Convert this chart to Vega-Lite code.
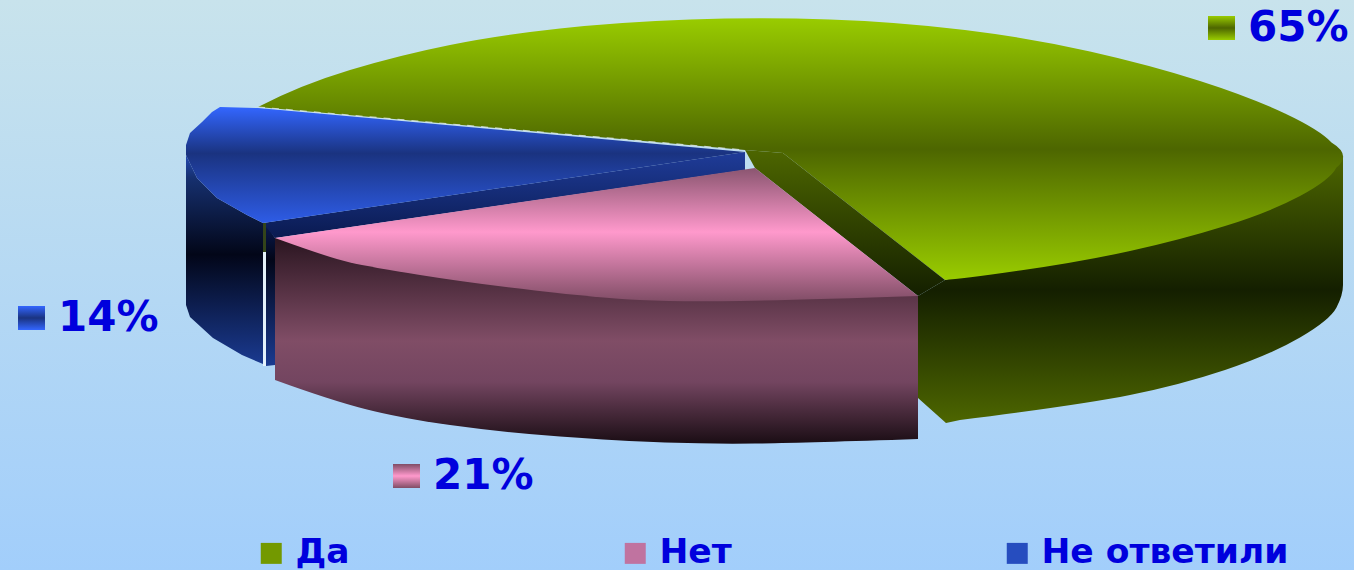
{"$schema":"https://vega.github.io/schema/vega-lite/v6.json","width":1354,"height":570,"padding":0,"autosize":{"type":"fit","contains":"padding"},"background":"#b5d8f4","view":{"stroke":null,"fill":{"gradient":"linear","x1":0,"y1":0,"x2":0,"y2":1,"stops":[{"offset":0,"color":"#c8e3ec"},{"offset":1,"color":"#a2cefb"}]}},"data":{"values":[{"category":"Да","value":65,"label":"65%"},{"category":"Нет","value":21,"label":"21%"},{"category":"Не ответили","value":14,"label":"14%"}]},"layer":[
{"transform":[{"filter":"datum.category==='Да'"}],"mark":{"type":"point","size":4,"filled":true,"opacity":1,"strokeWidth":0,"shape":"M666,-128L268,-5L241,11L241,113L269,138L283,135Q403,120 453,110Q503,100 548,85Q593,70 623,52.5Q653,35 659.5,22.5Q666,10 666,0Z","fill":{"gradient":"linear","x1":0,"y1":0,"x2":0,"y2":1,"stops":[{"offset":0,"color":"#4d6600"},{"offset":0.5,"color":"#141f00"},{"offset":1,"color":"#4d6600"}]}},"encoding":{}},
{"transform":[{"filter":"datum.category==='Да'"}],"mark":{"type":"point","size":4,"filled":true,"opacity":1,"strokeWidth":0,"shape":"M-419,-178Q-377,-200 -327,-215Q-277,-230 -227,-240Q-177,-250 -117,-256.5Q-57,-263 13,-265.5Q83,-268 153,-265.5Q223,-263 288,-255Q353,-247 413,-233.5Q473,-220 523,-204Q573,-188 608,-171.5Q643,-155 654.5,-142.5Q675,-130 659.5,-117.5Q653,-105 623,-89Q593,-73 548,-59Q503,-45 453,-34Q403,-23 343,-14.5Q283,-6 268,-5L106,-132L68,-135Z","fill":{"gradient":"linear","x1":0,"y1":0,"x2":0,"y2":1,"stops":[{"offset":0,"color":"#99cc00"},{"offset":0.5,"color":"#4d6600"},{"offset":1,"color":"#99cc00"}]}},"encoding":{}},
{"transform":[{"filter":"datum.category==='Да'"}],"mark":{"type":"point","size":4,"filled":true,"opacity":1,"strokeWidth":0,"shape":"M68,-135L106,-132L268,-5L241,11L78,-117Z","fill":{"gradient":"linear","x1":0,"y1":0,"x2":0,"y2":1,"stops":[{"offset":0,"color":"#4d6600"},{"offset":1,"color":"#141f00"}]}},"encoding":{}},
{"transform":[{"filter":"datum.category==='Не ответили'"}],"mark":{"type":"point","size":4,"filled":true,"opacity":1,"strokeWidth":0,"shape":"M-491,-140L-491,20L-487,32L-464,53L-435,70L-414,79L-414,-62L-430,-70L-460,-87L-480,-107L-491,-130Z","fill":{"gradient":"linear","x1":0,"y1":0,"x2":0,"y2":1,"stops":[{"offset":0,"color":"#2a55d0"},{"offset":0.15,"color":"#16306f"},{"offset":0.5,"color":"#020618"},{"offset":1,"color":"#1a3a90"}]}},"encoding":{}},
{"transform":[{"filter":"datum.category==='Не ответили'"}],"mark":{"type":"point","size":4,"filled":true,"opacity":1,"strokeWidth":0,"shape":"M-411,-61L-402,-47L-402,80L-411,81Z","fill":{"gradient":"linear","x1":0,"y1":0,"x2":0,"y2":1,"stops":[{"offset":0,"color":"#0a1a50"},{"offset":0.25,"color":"#020618"},{"offset":1,"color":"#1a3a90"}]}},"encoding":{}},
{"transform":[{"filter":"datum.category==='Не ответили'"}],"mark":{"type":"point","size":4,"filled":true,"opacity":1,"strokeWidth":0,"shape":"M-414,-62L68,-133L68,-115L-402,-47Z","fill":{"gradient":"linear","x1":0,"y1":0,"x2":0,"y2":1,"stops":[{"offset":0,"color":"#1f3c99"},{"offset":1,"color":"#0a1a50"}]}},"encoding":{}},
{"transform":[{"filter":"datum.category==='Не ответили'"}],"mark":{"type":"point","size":4,"filled":true,"opacity":1,"strokeWidth":0,"shape":"M-457,-178L-465,-173L-475,-163L-487,-152L-491,-140L-491,-130L-480,-107L-460,-87L-430,-70L-414,-62L68,-133L-419,-177Z","fill":{"gradient":"linear","x1":0,"y1":0,"x2":0,"y2":1,"stops":[{"offset":0,"color":"#3366ff"},{"offset":0.4,"color":"#1a3380"},{"offset":1,"color":"#2e5ce6"}]}},"encoding":{}},
{"transform":[{"filter":"datum.category==='Не ответили'"}],"mark":{"type":"point","size":4,"filled":true,"opacity":1,"strokeWidth":0,"fill":"#33441a","shape":"M-414,-62L-411,-62L-411,-33L-414,-33Z"},"encoding":{}},
{"transform":[{"filter":"datum.category==='Не ответили'"}],"mark":{"type":"point","size":4,"filled":true,"opacity":1,"strokeWidth":0,"fill":"#e4f2fb","shape":"M-414,-33L-411,-33L-411,81L-414,81Z"},"encoding":{}},
{"transform":[{"filter":"datum.category==='Нет'"}],"mark":{"type":"point","size":4,"filled":true,"opacity":1,"strokeWidth":0,"shape":"M-402,-47L241,11L241,154Q123,158 78,158.5Q33,159 -12,157.5Q-57,156 -117,151.5Q-177,147 -227,140Q-277,133 -312,124Q-347,115 -402,95Z","fill":{"gradient":"linear","x1":0,"y1":0,"x2":0,"y2":1,"stops":[{"offset":0,"color":"#2a1520"},{"offset":0.5,"color":"#804d66"},{"offset":0.7,"color":"#734560"},{"offset":1,"color":"#1a0d14"}]}},"encoding":{}},
{"transform":[{"filter":"datum.category==='Нет'"}],"mark":{"type":"point","size":4,"filled":true,"opacity":1,"strokeWidth":0,"shape":"M-402,-47L78,-117L241,11Q123,15 63,16Q3,17 -37,15Q-77,13 -142,5.5Q-207,-2 -257,-10Q-307,-18 -327,-22.5Q-347,-27 -402,-47Z","fill":{"gradient":"linear","x1":0,"y1":0,"x2":0,"y2":1,"stops":[{"offset":0,"color":"#8a5570"},{"offset":0.48,"color":"#ff99cc"},{"offset":1,"color":"#804d66"}]}},"encoding":{}},
{"transform":[{"filter":"datum.category==='Да'"}],"mark":{"type":"point","size":4,"filled":false,"opacity":0.8,"strokeWidth":1.2,"strokeDash":[7,7],"stroke":"#dde8e8","shape":"M-419,-178L68,-135"},"encoding":{}},
{"mark":{"type":"point","size":4,"filled":true,"opacity":1,"strokeWidth":0,"shape":"M-40,-12L-13,-12L-13,12L-40,12Z"},"encoding":{"x":{"field":"value","type":"quantitative","axis":null,"scale":{"domain":[14,21,65],"range":[58,433,1248],"nice":false,"zero":false}},"y":{"field":"value","type":"quantitative","axis":null,"scale":{"domain":[14,21,65],"range":[318,476,28],"nice":false,"zero":false}},"fill":{"field":"category","type":"nominal","scale":{"domain":["Да","Нет","Не ответили"],"range":["#739900","#c073a0","#264dbf"]},"legend":{"title":null,"orient":"none","legendX":254,"legendY":536,"direction":"horizontal","columns":3,"columnPadding":268,"padding":0,"symbolType":"square","symbolSize":440,"symbolStrokeWidth":0,"labelOffset":7,"labelFont":"DejaVu Sans","labelFontWeight":"bold","labelFontSize":34.5,"labelColor":"#0000dd","labelLimit":400,"symbolOpacity":1}}}},
{"transform":[{"filter":"datum.category==='Да'"}],"mark":{"type":"point","size":4,"filled":true,"opacity":1,"strokeWidth":0,"shape":"M-40,-12L-13,-12L-13,12L-40,12Z","fill":{"gradient":"linear","x1":0,"y1":0,"x2":0,"y2":1,"stops":[{"offset":0,"color":"#99cc00"},{"offset":0.5,"color":"#4d6600"},{"offset":1,"color":"#99cc00"}]}},"encoding":{"x":{"field":"value","type":"quantitative","axis":null},"y":{"field":"value","type":"quantitative","axis":null}}},
{"transform":[{"filter":"datum.category==='Нет'"}],"mark":{"type":"point","size":4,"filled":true,"opacity":1,"strokeWidth":0,"shape":"M-40,-12L-13,-12L-13,12L-40,12Z","fill":{"gradient":"linear","x1":0,"y1":0,"x2":0,"y2":1,"stops":[{"offset":0,"color":"#804d66"},{"offset":0.5,"color":"#ff99cc"},{"offset":1,"color":"#804d66"}]}},"encoding":{"x":{"field":"value","type":"quantitative","axis":null},"y":{"field":"value","type":"quantitative","axis":null}}},
{"transform":[{"filter":"datum.category==='Не ответили'"}],"mark":{"type":"point","size":4,"filled":true,"opacity":1,"strokeWidth":0,"shape":"M-40,-12L-13,-12L-13,12L-40,12Z","fill":{"gradient":"linear","x1":0,"y1":0,"x2":0,"y2":1,"stops":[{"offset":0,"color":"#3366ff"},{"offset":0.5,"color":"#1a3380"},{"offset":1,"color":"#3366ff"}]}},"encoding":{"x":{"field":"value","type":"quantitative","axis":null},"y":{"field":"value","type":"quantitative","axis":null}}},
{"mark":{"type":"text","align":"left","baseline":"middle","font":"DejaVu Sans","fontWeight":"bold","fontSize":42,"color":"#0000dd"},"encoding":{"x":{"field":"value","type":"quantitative","axis":null},"y":{"field":"value","type":"quantitative","axis":null},"text":{"field":"label","type":"nominal"}}}
]}
